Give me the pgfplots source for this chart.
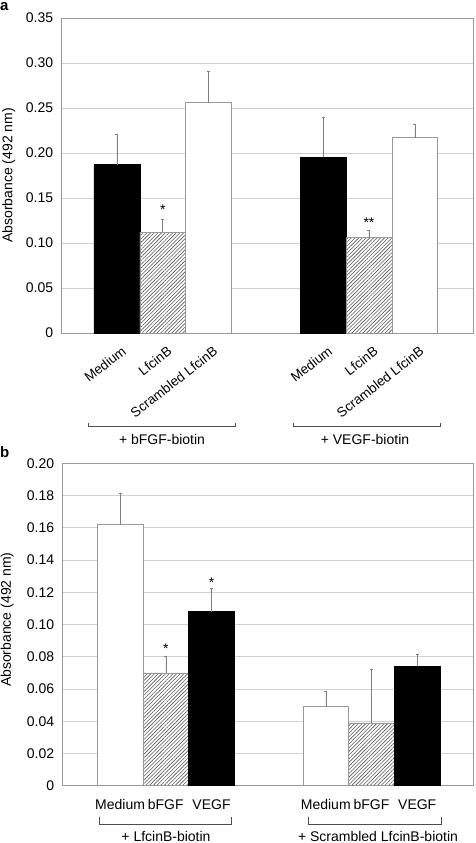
\documentclass[border=0pt]{standalone}
\usepackage{fontspec}
\setmainfont{Liberation Sans}
\usepackage{pgfplots}
\pgfplotsset{compat=1.18}
\usetikzlibrary{patterns,patterns.meta}
\definecolor{axgray}{gray}{0.6}
\definecolor{gridgray}{gray}{0.82}
\definecolor{errgray}{gray}{0.5}
\begin{document}
\fontsize{14}{16}\selectfont
\begin{tikzpicture}
\useasboundingbox (0pt,0pt) rectangle (475pt,843pt);
\pgfplotsset{
  panel/.style={
    scale only axis, anchor=south west,
    ymin=0, ybar, bar width=1, bar shift=0pt,
    axis line style={axgray, line width=0.6pt},
    ymajorgrids, grid style={gridgray, line width=0.6pt},
    tick style={draw=none},
    xtick={0,1,2,4.5,5.5,6.5},
    yticklabel style={xshift=-3pt, font=\fontsize{14}{16}\selectfont},
    xticklabel style={font=\fontsize{14}{16}\selectfont},
    ylabel={Absorbance (492 nm)},
    ylabel style={font=\fontsize{14}{16}\selectfont},
    clip=false,
  },
  blackbar/.style={fill=black, draw=black, line width=0.5pt},
  hatchbar/.style={fill=white, draw=axgray, line width=0.5pt,
    postaction={pattern={Lines[angle=45, distance=2.6pt, line width=0.6pt]}, pattern color=black!65}},
  whitebar/.style={fill=white, draw=axgray, line width=0.6pt},
  eb/.style={error bars/.cd, y dir=plus, y explicit,
    error bar style={errgray, line width=0.5pt},
    error mark options={rotate=90, mark size=1.5pt, errgray, line width=0.5pt}},
}
% ---------------- panel a ----------------
\begin{axis}[panel, at={(61pt,510pt)}, width=412pt, height=315pt,
  xmin=-1.22, xmax=7.77, ymax=0.35,
  ytick={0,0.05,0.1,0.15,0.2,0.25,0.3,0.35},
  yticklabels={0,0.05,0.10,0.15,0.20,0.25,0.30,0.35},
  xticklabels={Medium,LfcinB,Scrambled LfcinB,Medium,LfcinB,Scrambled LfcinB},
  xticklabel style={inner sep=0pt, xshift=4pt, yshift=-8pt, rotate=38, anchor=north east,
    font=\fontsize{13.5}{16}\selectfont},
  every axis y label/.style={at={(axis description cs:-0.127,0.5)}, rotate=90, anchor=center},
]
\addplot[blackbar, eb] coordinates {(0,0.187) +- (0,0.034) (4.5,0.195) +- (0,0.045)};
\addplot[hatchbar, eb] coordinates {(1,0.112) +- (0,0.014) (5.5,0.106) +- (0,0.008)};
\addplot[whitebar, eb] coordinates {(2,0.256) +- (0,0.035) (6.5,0.217) +- (0,0.015)};
\node[font=\fontsize{14}{16}\selectfont] at (axis cs:1,0.137) {*};
\node[font=\fontsize{14}{16}\selectfont] at (axis cs:5.5,0.123) {**};
\end{axis}
% ---------------- panel b ----------------
\begin{axis}[panel, at={(62pt,57.3pt)}, width=411pt, height=322.4pt,
  xmin=-1.27, xmax=7.72, ymax=0.2,
  ytick={0,0.02,0.04,0.06,0.08,0.1,0.12,0.14,0.16,0.18,0.2},
  yticklabels={0,0.02,0.04,0.06,0.08,0.10,0.12,0.14,0.16,0.18,0.20},
  xticklabels={Medium,bFGF,VEGF,Medium,bFGF,VEGF},
  xticklabel style={anchor=base, yshift=-20pt},
  every axis y label/.style={at={(axis description cs:-0.133,0.515)}, rotate=90, anchor=center},
]
\addplot[whitebar, eb] coordinates {(0,0.162) +- (0,0.0195) (4.5,0.049) +- (0,0.0098)};
\addplot[hatchbar, eb] coordinates {(1,0.070) +- (0,0.010) (5.5,0.039) +- (0,0.033)};
\addplot[blackbar, eb] coordinates {(2,0.108) +- (0,0.0143) (6.5,0.074) +- (0,0.0076)};
\node[font=\fontsize{14}{16}\selectfont] at (axis cs:1,0.085) {*};
\node[font=\fontsize{14}{16}\selectfont] at (axis cs:2,0.126) {*};
\end{axis}
% ---------------- brackets and group labels ----------------
\draw[black!70, line width=0.6pt] (88pt,420pt) -- (88pt,416.3pt) -- (235pt,416.3pt) -- (235pt,420pt);
\draw[black!70, line width=0.6pt] (293pt,420pt) -- (293pt,416.3pt) -- (440pt,416.3pt) -- (440pt,420pt);
\node[anchor=base] at (162pt,398.7pt) {+ bFGF-biotin};
\node[anchor=base] at (365pt,398.7pt) {+ VEGF-biotin};
\draw[black!70, line width=0.6pt] (99pt,26.3pt) -- (99pt,18.7pt) -- (231.7pt,18.7pt) -- (231.7pt,26.3pt);
\draw[black!70, line width=0.6pt] (308pt,26.3pt) -- (308pt,18.7pt) -- (441pt,18.7pt) -- (441pt,26.3pt);
\node[anchor=base] at (166pt,1.5pt) {+ LfcinB-biotin};
\node[anchor=base] at (378pt,1.5pt) {+ Scrambled LfcinB-biotin};
% panel letters
\node[anchor=base west, inner sep=0pt, font=\fontsize{15}{16}\selectfont\bfseries] at (0pt,832pt) {a};
\node[anchor=base west, inner sep=0pt, font=\fontsize{15}{16}\selectfont\bfseries] at (0pt,385.7pt) {b};
\end{tikzpicture}
\end{document}
